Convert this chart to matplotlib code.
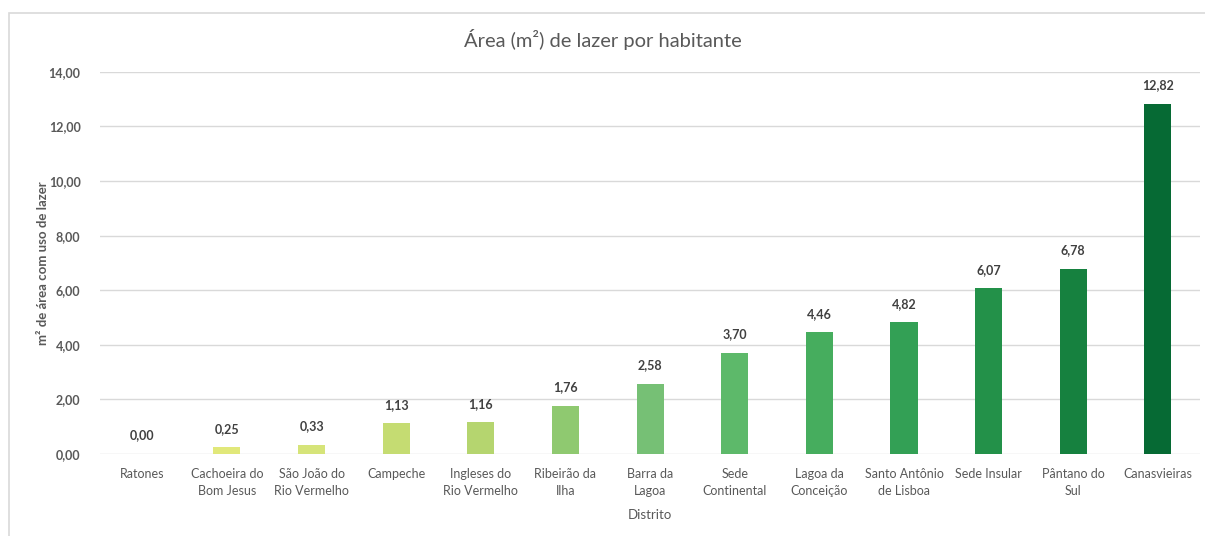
import matplotlib.pyplot as plt
from matplotlib.patches import Rectangle

plt.rcParams['font.family'] = ['Lato', 'DejaVu Sans']

# Data
distritos = ['Ratones', 'Cachoeira do\nBom Jesus', 'São João do\nRio Vermelho', 'Campeche',
             'Ingleses do\nRio Vermelho', 'Ribeirão da\nIlha', 'Barra da\nLagoa', 'Sede\nContinental',
             'Lagoa da\nConceição', 'Santo Antônio\nde Lisboa', 'Sede Insular', 'Pântano do\nSul',
             'Canasvieiras']
area = [0.00, 0.25, 0.33, 1.13, 1.16, 1.76, 2.58, 3.70, 4.46, 4.82, 6.07, 6.78, 12.82]
cores = ['#e8ec84', '#e1e87a', '#d6e479', '#c5dc72', '#b5d56f', '#8fc970', '#76c075',
         '#5db96a', '#46ad5e', '#33a055', '#239149', '#16813f', '#066a34']
yticks = [0, 2, 4, 6, 8, 10, 12, 14]

fig = plt.figure(figsize=(12.05, 5.36), dpi=100)
ax = fig.add_axes([0.083, 0.153, 0.913, 0.713])

x = range(len(distritos))
ax.bar(x, area, width=0.32, color=cores, zorder=3)
for i, v in zip(x, area):
    ax.annotate(f'{v:.2f}'.replace('.', ','), (i, v), xytext=(0, 9), textcoords='offset points',
                ha='center', va='bottom', fontsize=9, fontweight='bold', color='#404040')

ax.set_ylim(0, 14)
ax.set_xlim(-0.5, len(distritos) - 0.5)
ax.set_yticks(yticks)
ax.set_yticklabels([f'{t:.2f}'.replace('.', ',') for t in yticks], fontsize=9,
                   fontweight='bold', color='#595959')
ax.set_xticks(list(x))
ax.set_xticklabels(distritos, fontsize=9, color='#595959', linespacing=1.5)
ax.tick_params(length=0, pad=10)
ax.tick_params(axis='y', pad=14)
ax.grid(axis='y', color='#d9d9d9', linewidth=1, zorder=0)
for s in ax.spines.values():
    s.set_visible(False)

ax.set_xlabel('Distrito', fontsize=9.5, color='#595959', labelpad=9)
ax.set_ylabel('m² de área com uso de lazer', fontsize=9.5, fontweight='bold', color='#595959',
              labelpad=0)
fig.suptitle('Área (m²) de lazer por habitante', y=0.945, fontsize=14.5, color='#595959')

fig.patches.append(Rectangle((9 / 1205, -0.01), 1.1, 1 - 13 / 536 + 0.01, transform=fig.transFigure,
                             fill=False, edgecolor='#d9d9d9', linewidth=1.2))

plt.savefig('out.png', dpi=100)
